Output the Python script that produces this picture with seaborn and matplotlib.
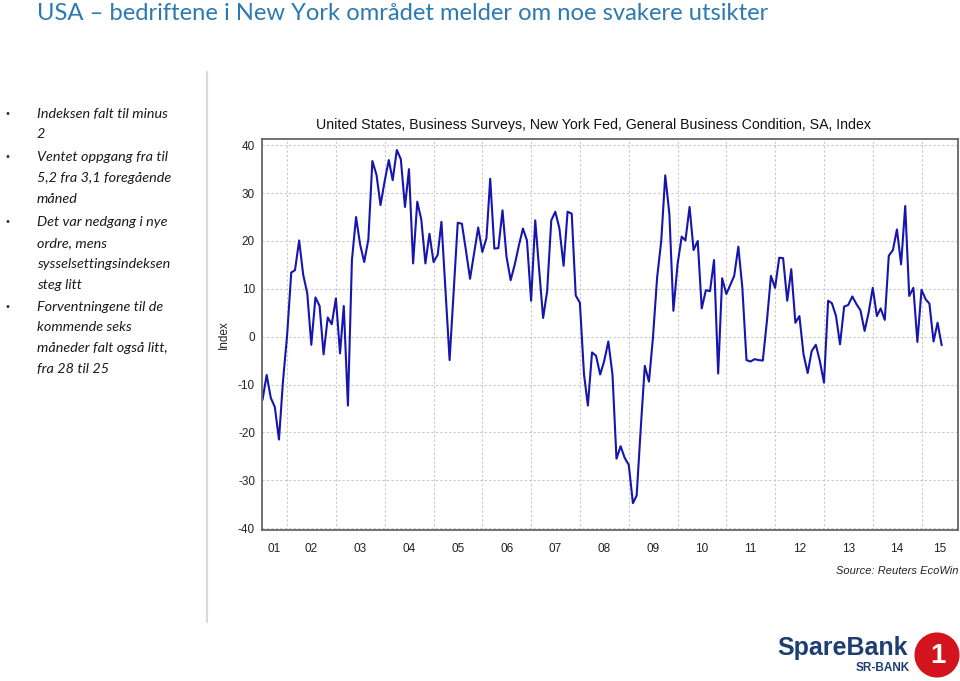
import matplotlib
matplotlib.use("Agg")
import matplotlib.pyplot as plt
from matplotlib.patches import Circle
from matplotlib.lines import Line2D
import pandas as pd
import seaborn as sns

TITLE = "USA – bedriftene i New York området melder om noe svakere utsikter"
CHART_TITLE = ("United States, Business Surveys, New York Fed, "
               "General Business Condition, SA, Index")
SOURCE = "Source: Reuters EcoWin"
Y_LABEL = "Index"

BULLETS = [
    ["Indeksen falt til minus", "2"],
    ["Ventet oppgang fra til", "5,2 fra 3,1 foregående", "måned"],
    ["Det var nedgang i nye", "ordre, mens", "sysselsettingsindeksen", "steg litt"],
    ["Forventningene til de", "kommende seks", "måneder falt også litt,",
     "fra 28 til 25"],
]

# Empire State general business conditions, monthly, Jul 2001 - Jun 2015
v2001 = [-13.2, -8.0, -12.8, -14.7, -21.5, -9.3]
v2002 = [0.3, 13.4, 13.9, 20.1, 13.0, 9.0, -1.7, 8.2, 6.4, -3.7, 4.0, 2.6]
v2003 = [8.0, -3.5, 6.4, -14.4, 16.0, 25.0, 19.3, 15.6, 20.3, 36.7, 33.8, 27.5]
v2004 = [32.5, 36.9, 32.7, 39.0, 37.1, 27.1, 35.0, 15.3, 28.2, 24.5, 15.3, 21.5]
v2005 = [15.6, 17.1, 24.0, 9.5, -4.9, 9.5, 23.8, 23.6, 17.9, 12.1, 17.6, 22.8]
v2006 = [17.7, 20.6, 33.0, 18.4, 18.5, 26.4, 16.7, 11.8, 15.1, 19.0, 22.6, 20.1]
v2007 = [7.5, 24.3, 14.4, 3.9, 9.5, 24.3, 26.1, 22.6, 14.8, 26.1, 25.7, 8.6]
v2008 = [7.1, -7.9, -14.4, -3.3, -4.0, -7.9, -5.1, -1.0, -7.9, -25.5, -22.9, -25.3]
v2009 = [-26.8, -34.8, -33.2, -19.0, -6.1, -9.4, -0.2, 12.3, 20.0, 33.7, 25.6, 5.4]
v2010 = [15.1, 20.9, 20.1, 27.1, 18.1, 20.0, 5.9, 9.7, 9.5, 16.0, -7.7, 12.2]
v2011 = [8.9, 10.9, 12.7, 18.8, 10.2, -4.9, -5.2, -4.7, -4.9, -5.0, 3.3, 12.7]
v2012 = [10.2, 16.5, 16.4, 7.5, 14.1, 2.9, 4.3, -3.7, -7.6, -3.0, -1.7, -5.1]
v2013 = [-9.6, 7.5, 7.0, 4.3, -1.6, 6.3, 6.6, 8.4, 6.8, 5.5, 1.2, 5.0]
v2014 = [10.2, 4.3, 5.9, 3.5, 16.9, 18.1, 22.4, 15.1, 27.3, 8.5, 10.2, -1.1]
v2015 = [9.8, 7.8, 6.9, -1.0, 2.9, -1.8]

START = "2001-07-01"
YEARS = list(range(2001, 2016))
YEAR_LABELS = [f"{y % 100:02d}" for y in YEARS]
YTICKS = [-40, -30, -20, -10, 0, 10, 20, 30, 40]

values = (v2001 + v2002 + v2003 + v2004 + v2005 + v2006 + v2007 + v2008
          + v2009 + v2010 + v2011 + v2012 + v2013 + v2014 + v2015)
df = pd.DataFrame({
    "date": pd.date_range(START, periods=len(values), freq="MS"),
    "index": values,
})

sns.set_style("white")
plt.rcParams["font.family"] = ["Liberation Sans", "DejaVu Sans"]
plt.rcParams["axes.unicode_minus"] = False

W, H = 960, 681
fig = plt.figure(figsize=(W / 100, H / 100), dpi=100)


def fx(px):
    return px / W


def fy(py):
    return 1 - py / H


# ---- left-hand slide text ---- #
fig.text(fx(37), fy(14), TITLE, fontsize=17.1, color="#2C7AB0",
         family=["Lato", "DejaVu Sans"], va="center", ha="left")

line_y = [[114, 134], [157, 178, 199], [222, 243, 264, 285],
          [307, 327, 348, 369]]
for lines, ys in zip(BULLETS, line_y):
    fig.text(fx(6), fy(ys[0]), "•", fontsize=8, color="#333333",
             va="center", ha="left")
    for txt, y in zip(lines, ys):
        fig.text(fx(37), fy(y), txt, fontsize=10.4, style="italic",
                 color="#1a1a1a", family=["Lato", "DejaVu Sans"],
                 va="center", ha="left")

fig.add_artist(Line2D([fx(207), fx(207)], [fy(72), fy(622)],
                      color="#d9d9d9", lw=1.6))

# ---- chart ---- #
ax = fig.add_axes([fx(262), fy(530), fx(958) - fx(262), fy(139) - fy(530)])
sns.lineplot(data=df, x="date", y="index", ax=ax, color="#1515B0", lw=1.5)

x_left = pd.Timestamp("2001-06-27")
x_right = pd.Timestamp("2015-10-01")
ax.set_xlim(x_left, x_right)
ax.set_ylim(-40.4, 41.3)

major = [pd.Timestamp(f"{y}-01-01") for y in YEARS[1:]]
ax.set_xticks(major)
ax.set_xticklabels([])
mids = []
for y in YEARS:
    a = max(pd.Timestamp(f"{y}-01-01"), x_left)
    b = min(pd.Timestamp(f"{y + 1}-01-01"), x_right)
    mids.append(a + (b - a) / 2)
ax.set_xticks(mids, minor=True)
ax.set_xticklabels(YEAR_LABELS, minor=True)
ax.tick_params(axis="x", which="major", direction="out", length=4,
               color="#555555", width=1)
ax.tick_params(axis="x", which="minor", length=0, labelsize=8.5, pad=9,
               labelcolor="#222222")
ax.set_yticks(YTICKS)
ax.tick_params(axis="y", direction="out", length=3, color="#555555",
               labelsize=8.5, labelcolor="#222222", pad=2)

ax.grid(True, which="major", color="#c8c8c8", ls=(0, (2, 2)), lw=0.8)
for s in ax.spines.values():
    s.set_visible(True)
    s.set_color("#666666")
    s.set_linewidth(1.3)

ax.set_xlabel("")
ax.set_ylabel(Y_LABEL, fontsize=8.5, color="#222222")
ax.yaxis.set_label_coords((230 - 262) / (958 - 262), 0.5)

fig.text(fx(594), fy(125), CHART_TITLE, fontsize=10.2, color="#111111",
         ha="center", va="center")
fig.text(fx(958), fy(571), SOURCE, fontsize=8, style="italic",
         color="#222222", ha="right", va="center")

# ---- logo ---- #
fig.text(fx(777), fy(648), "SpareBank", fontsize=18, fontweight="bold",
         color="#1D3D73", family=["Liberation Sans", "DejaVu Sans"],
         ha="left", va="center")
fig.text(fx(910), fy(668), "SR-BANK", fontsize=8.5, fontweight="bold",
         color="#1D3D73", family=["Liberation Sans", "DejaVu Sans"],
         ha="right", va="center")
logo_ax = fig.add_axes([fx(914), fy(678), fx(46), fy(632) - fy(678)])
logo_ax.set_xlim(-1, 1)
logo_ax.set_ylim(-1, 1)
logo_ax.set_aspect("equal")
logo_ax.axis("off")
logo_ax.add_patch(Circle((0, 0), 0.95, color="#D3141E"))
logo_ax.text(0.02, -0.05, "1", fontsize=20, fontweight="bold", color="white",
             ha="center", va="center", family=["Liberation Sans", "DejaVu Sans"])

fig.savefig("out.png", dpi=100)
